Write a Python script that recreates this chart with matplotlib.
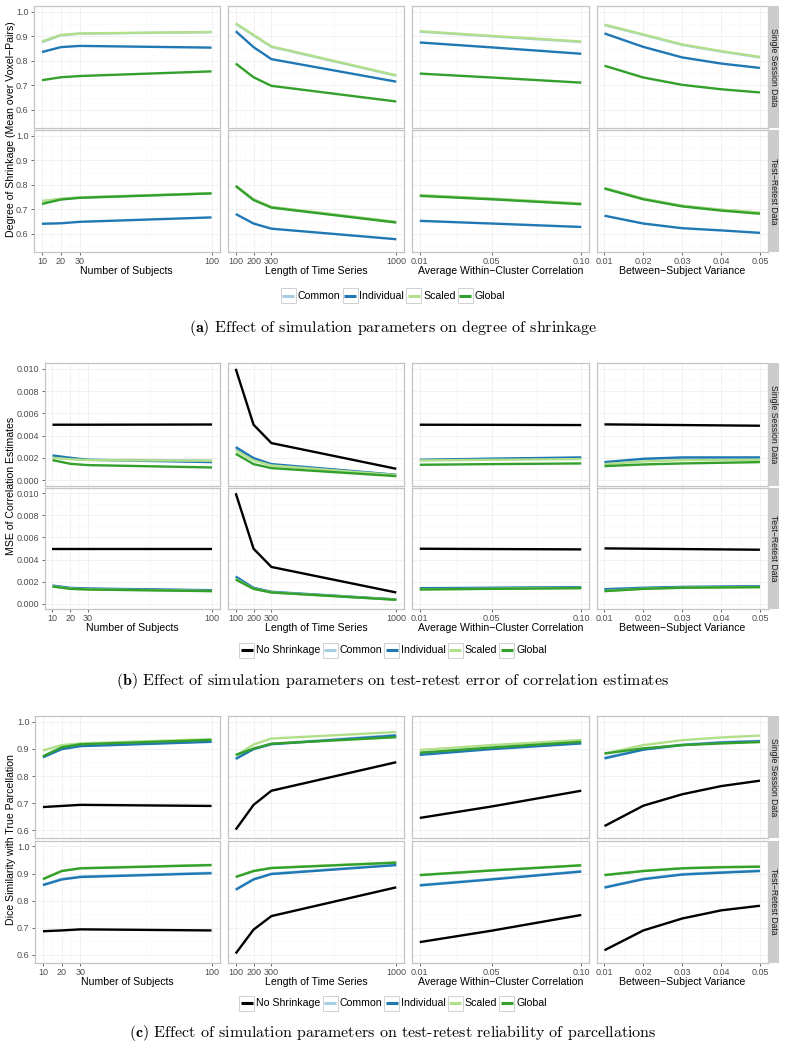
import matplotlib
matplotlib.use("Agg")
import matplotlib.pyplot as plt
from matplotlib.patches import Rectangle
from matplotlib.lines import Line2D

plt.rcParams['font.family'] = ['Liberation Sans', 'DejaVu Sans']
plt.rcParams['mathtext.fontset'] = 'cm'

# ---------------- data ----------------
n_subjects = [10, 20, 30, 100]
ts_length = [100, 200, 300, 1000]
within_corr = [0.01, 0.05, 0.10]
between_var = [0.01, 0.02, 0.03, 0.04, 0.05]

n_subjects_labels = ['10', '20', '30', '100']
ts_length_labels = ['100', '200', '300', '1000']
within_corr_labels = ['0.01', '0.05', '0.10']
between_var_labels = ['0.01', '0.02', '0.03', '0.04', '0.05']

param_titles = ['Number of Subjects', 'Length of Time Series',
                'Average Within\u2212Cluster Correlation', 'Between\u2212Subject Variance']
row_titles = ['Single Session Data', 'Test\u2212Retest Data']

method_names = ['No Shrinkage', 'Common', 'Individual', 'Scaled', 'Global']

# (a) degree of shrinkage
a_ss_common = [[0.876, 0.904, 0.911, 0.917], [0.951, 0.904, 0.857, 0.739], [0.919, 0.900, 0.877], [0.946, 0.906, 0.865, 0.838, 0.814]]
a_ss_indiv = [[0.836, 0.856, 0.861, 0.854], [0.921, 0.856, 0.807, 0.715], [0.875, 0.855, 0.829], [0.912, 0.857, 0.814, 0.789, 0.771]]
a_ss_scaled = [[0.879, 0.906, 0.912, 0.918], [0.953, 0.906, 0.859, 0.741], [0.921, 0.902, 0.879], [0.948, 0.908, 0.867, 0.840, 0.816]]
a_ss_global = [[0.721, 0.733, 0.738, 0.757], [0.789, 0.733, 0.698, 0.634], [0.748, 0.732, 0.711], [0.780, 0.732, 0.702, 0.684, 0.671]]

a_tr_common = [[0.733, 0.742, 0.748, 0.765], [0.796, 0.740, 0.709, 0.648], [0.757, 0.743, 0.723], [0.786, 0.743, 0.714, 0.698, 0.686]]
a_tr_indiv = [[0.641, 0.643, 0.649, 0.667], [0.681, 0.642, 0.621, 0.578], [0.653, 0.642, 0.628], [0.674, 0.642, 0.623, 0.614, 0.604]]
a_tr_scaled = [[0.734, 0.743, 0.749, 0.766], [0.797, 0.741, 0.710, 0.649], [0.758, 0.744, 0.724], [0.787, 0.744, 0.715, 0.699, 0.687]]
a_tr_global = [[0.722, 0.740, 0.747, 0.765], [0.795, 0.738, 0.707, 0.646], [0.755, 0.741, 0.721], [0.785, 0.741, 0.712, 0.695, 0.682]]

# (b) MSE of correlation estimates
b_ss_none = [[0.00498, 0.00498, 0.00498, 0.00500], [0.0100, 0.00498, 0.00333, 0.00102], [0.00498, 0.00497, 0.00495], [0.00501, 0.00498, 0.00495, 0.00492, 0.00489]]
b_ss_common = [[0.00207, 0.00192, 0.00183, 0.00177], [0.00282, 0.00190, 0.00140, 0.00047], [0.00180, 0.00190, 0.00200], [0.00150, 0.00188, 0.00200, 0.00201, 0.00202]]
b_ss_indiv = [[0.00222, 0.00201, 0.00183, 0.00162], [0.00297, 0.00198, 0.00144, 0.00048], [0.00183, 0.00193, 0.00204], [0.00162, 0.00192, 0.00204, 0.00204, 0.00204]]
b_ss_scaled = [[0.00201, 0.00188, 0.00180, 0.00174], [0.00267, 0.00177, 0.00132, 0.00045], [0.00177, 0.00183, 0.00189], [0.00144, 0.00168, 0.00180, 0.00181, 0.00183]]
b_ss_global = [[0.00180, 0.00147, 0.00135, 0.00114], [0.00237, 0.00144, 0.00108, 0.00036], [0.00138, 0.00144, 0.00150], [0.00126, 0.00141, 0.00150, 0.00156, 0.00162]]

b_tr_none = [[0.00498, 0.00498, 0.00498, 0.00498], [0.0100, 0.00498, 0.00333, 0.00102], [0.00498, 0.00495, 0.00492], [0.00501, 0.00498, 0.00495, 0.00492, 0.00489]]
b_tr_common = [[0.00162, 0.00141, 0.00135, 0.00120], [0.00237, 0.00141, 0.00105, 0.00038], [0.00138, 0.00142, 0.00147], [0.00125, 0.00140, 0.00148, 0.00152, 0.00155]]
b_tr_indiv = [[0.00165, 0.00144, 0.00138, 0.00123], [0.00246, 0.00144, 0.00108, 0.00039], [0.00141, 0.00145, 0.00150], [0.00132, 0.00145, 0.00153, 0.00156, 0.00159]]
b_tr_scaled = [[0.00158, 0.00137, 0.00131, 0.00116], [0.00225, 0.00136, 0.00103, 0.00037], [0.00131, 0.00136, 0.00143], [0.00116, 0.00136, 0.00146, 0.00149, 0.00152]]
b_tr_global = [[0.00156, 0.00135, 0.00129, 0.00114], [0.00219, 0.00135, 0.00102, 0.00036], [0.00129, 0.00135, 0.00141], [0.00114, 0.00135, 0.00145, 0.00148, 0.00150]]

# (c) Dice similarity with true parcellation
c_ss_none = [[0.686, 0.690, 0.694, 0.690], [0.603, 0.694, 0.746, 0.851], [0.646, 0.688, 0.746], [0.616, 0.691, 0.733, 0.763, 0.783]]
c_ss_common = [[0.871, 0.901, 0.912, 0.928], [0.866, 0.901, 0.919, 0.951], [0.880, 0.902, 0.922], [0.868, 0.899, 0.916, 0.925, 0.930]]
c_ss_indiv = [[0.869, 0.899, 0.910, 0.926], [0.863, 0.899, 0.917, 0.949], [0.878, 0.899, 0.920], [0.865, 0.897, 0.914, 0.923, 0.928]]
c_ss_scaled = [[0.894, 0.914, 0.920, 0.936], [0.875, 0.916, 0.938, 0.962], [0.896, 0.914, 0.933], [0.883, 0.914, 0.932, 0.942, 0.949]]
c_ss_global = [[0.873, 0.906, 0.917, 0.933], [0.878, 0.901, 0.919, 0.943], [0.886, 0.905, 0.926], [0.883, 0.902, 0.914, 0.920, 0.925]]

c_tr_none = [[0.687, 0.690, 0.694, 0.690], [0.605, 0.693, 0.743, 0.849], [0.647, 0.689, 0.747], [0.617, 0.690, 0.734, 0.764, 0.781]]
c_tr_common = [[0.859, 0.880, 0.889, 0.903], [0.842, 0.880, 0.900, 0.933], [0.858, 0.880, 0.909], [0.850, 0.881, 0.898, 0.905, 0.911]]
c_tr_indiv = [[0.857, 0.878, 0.887, 0.901], [0.840, 0.878, 0.898, 0.931], [0.856, 0.878, 0.907], [0.848, 0.879, 0.896, 0.903, 0.909]]
c_tr_scaled = [[0.880, 0.910, 0.920, 0.932], [0.888, 0.910, 0.921, 0.941], [0.895, 0.912, 0.931], [0.895, 0.910, 0.920, 0.924, 0.926]]
c_tr_global = [[0.879, 0.909, 0.919, 0.931], [0.887, 0.909, 0.920, 0.940], [0.894, 0.911, 0.930], [0.894, 0.909, 0.919, 0.923, 0.925]]

# ---------------- styling ----------------
W, H = 788, 1049
fig = plt.figure(figsize=(W / 100, H / 100), dpi=100)
fig.patch.set_facecolor('white')

colors = {'No Shrinkage': '#000000', 'Common': '#a6cee3', 'Individual': '#1f78b4',
          'Scaled': '#b2df8a', 'Global': '#33a02c'}

x_values = [n_subjects, ts_length, within_corr, between_var]
x_labels = [n_subjects_labels, ts_length_labels, within_corr_labels, between_var_labels]
x_limits = [(5.5, 104.5), (55, 1045), (0.0055, 0.1045), (0.008, 0.052)]
x_minor = [[15, 25, 65], [150, 250, 650], [0.03, 0.075], [0.015, 0.025, 0.035, 0.045]]
col_x = [(None, 220.0), (227.7, 404.3), (411.7, 589.3), (596.7, 767.7)]
strip_x = (767.7, 779.0)

TICK_FS = 6.5
TITLE_FS = 7.6


def px_axes(x0, y0, x1, y1):
    return fig.add_axes([x0 / W, 1 - y1 / H, (x1 - x0) / W, (y1 - y0) / H])


def fig_xy(x, y):
    return x / W, 1 - y / H


figures = [
    dict(left=33.5, rows=[(6.0, 127.7), (130.0, 251.7)], ylim=(0.527, 1.024),
         yticks=[0.6, 0.7, 0.8, 0.9, 1.0], ylabels=['0.6', '0.7', '0.8', '0.9', '1.0'],
         yminor=[0.55, 0.65, 0.75, 0.85, 0.95],
         ylabel='Degree of Shrinkage (Mean over Voxel\u2212Pairs)',
         methods=['Common', 'Individual', 'Scaled', 'Global'],
         series=[[a_ss_common, a_ss_indiv, a_ss_scaled, a_ss_global],
                 [a_tr_common, a_tr_indiv, a_tr_scaled, a_tr_global]],
         legend_y=295.7, caption_y=328.0,
         caption=r'$\mathbf{(a)}$ Effect of simulation parameters on degree of shrinkage'),
    dict(left=44.5, rows=[(363.3, 485.7), (487.7, 609.3)], ylim=(-0.0005, 0.0105),
         yticks=[0.0, 0.002, 0.004, 0.006, 0.008, 0.010],
         ylabels=['0.000', '0.002', '0.004', '0.006', '0.008', '0.010'],
         yminor=[0.001, 0.003, 0.005, 0.007, 0.009],
         ylabel='MSE of Correlation Estimates',
         methods=method_names,
         series=[[b_ss_none, b_ss_common, b_ss_indiv, b_ss_scaled, b_ss_global],
                 [b_tr_none, b_tr_common, b_tr_indiv, b_tr_scaled, b_tr_global]],
         legend_y=650.3, caption_y=681.0,
         caption=r'$\mathbf{(b)}$ Effect of simulation parameters on test-retest error of correlation estimates'),
    dict(left=34.5, rows=[(716.0, 838.3), (840.7, 962.7)], ylim=(0.571, 1.021),
         yticks=[0.6, 0.7, 0.8, 0.9, 1.0], ylabels=['0.6', '0.7', '0.8', '0.9', '1.0'],
         yminor=[0.65, 0.75, 0.85, 0.95],
         ylabel='Dice Similarity with True Parcellation',
         methods=method_names,
         series=[[c_ss_none, c_ss_common, c_ss_indiv, c_ss_scaled, c_ss_global],
                 [c_tr_none, c_tr_common, c_tr_indiv, c_tr_scaled, c_tr_global]],
         legend_y=1003.0, caption_y=1033.3,
         caption=r'$\mathbf{(c)}$ Effect of simulation parameters on test-retest reliability of parcellations'),
]

for spec in figures:
    for r, (y0, y1) in enumerate(spec['rows']):
        for c in range(4):
            x0, x1 = col_x[c]
            if x0 is None:
                x0 = spec['left']
            ax = px_axes(x0, y0, x1, y1)
            ax.set_facecolor('white')
            for m, data in zip(spec['methods'], spec['series'][r]):
                ax.plot(x_values[c], data[c], color=colors[m], lw=1.7,
                        solid_capstyle='butt', solid_joinstyle='round', zorder=3)
            ax.set_xlim(*x_limits[c])
            ax.set_ylim(*spec['ylim'])
            ax.set_xticks(x_values[c])
            ax.set_xticks(x_minor[c], minor=True)
            ax.set_yticks(spec['yticks'])
            ax.set_yticks(spec['yminor'], minor=True)
            ax.grid(True, which='major', color='#efefef', lw=0.6, zorder=0)
            ax.grid(True, which='minor', color='#f8f8f8', lw=0.5, zorder=0)
            ax.set_axisbelow(True)
            for sp in ax.spines.values():
                sp.set_color('#c4c4c4')
                sp.set_linewidth(0.9)
            ax.tick_params(which='minor', length=0)
            ax.tick_params(which='major', length=2.5, width=0.6, color='#4d4d4d',
                           labelsize=TICK_FS, labelcolor='#4d4d4d', pad=1.2)
            if c == 0:
                ax.set_yticklabels(spec['ylabels'])
            else:
                ax.tick_params(axis='y', which='major', length=0, labelleft=False)
            if r == 1:
                ax.set_xticklabels(x_labels[c])
                ax.set_xlabel(param_titles[c], fontsize=TITLE_FS, labelpad=0.0)
            else:
                ax.tick_params(axis='x', which='major', length=0, labelbottom=False)
        # strip
        sx0, sy0 = fig_xy(strip_x[0], y1)
        sw = (strip_x[1] - strip_x[0]) / W
        sh = (y1 - y0) / H
        fig.add_artist(Rectangle((sx0, sy0), sw, sh, transform=fig.transFigure,
                                 facecolor='#cccccc', edgecolor='none'))
        tx, ty = fig_xy((strip_x[0] + strip_x[1]) / 2, (y0 + y1) / 2)
        fig.text(tx, ty, row_titles[r], rotation=-90, ha='center', va='center',
                 fontsize=6.2, color='#1a1a1a')
    # y label
    ymid = (spec['rows'][0][0] + spec['rows'][1][1]) / 2
    lx, ly = fig_xy(11.5, ymid)
    fig.text(lx, ly, spec['ylabel'], rotation=90, ha='center', va='center',
             fontsize=TITLE_FS, color='black')

    # caption
    cx, cy = fig_xy(393, spec['caption_y'])
    fig.text(cx, cy, spec['caption'], ha='center', va='center', fontsize=11.5,
             family='cmr10')

# legends (drawn after measuring text)
renderer = fig.canvas.get_renderer()
for spec in figures:
    items = spec['methods']
    box = 15.0
    gap_text = 2.0
    gap_item = 2.0
    texts = []
    widths = []
    for m in items:
        t = fig.text(0, 0, m, fontsize=TITLE_FS, ha='left', va='center', color='black')
        widths.append(t.get_window_extent(renderer).width)
        texts.append(t)
    total = sum(box + gap_text + w for w in widths) + gap_item * (len(items) - 1)
    x = 393 - total / 2
    yc = spec['legend_y']
    for m, t, w in zip(items, texts, widths):
        bx, by = fig_xy(x, yc + box / 2)
        fig.add_artist(Rectangle((bx, by), box / W, box / H, transform=fig.transFigure,
                                 facecolor='white', edgecolor='#d0d0d0', lw=0.7))
        lx0, ly0 = fig_xy(x + 1.5, yc)
        lx1, _ = fig_xy(x + box - 1.5, yc)
        fig.add_artist(Line2D([lx0, lx1], [ly0, ly0], transform=fig.transFigure,
                              color=colors[m], lw=2.2, solid_capstyle='butt'))
        tx, ty = fig_xy(x + box + gap_text, yc)
        t.set_position((tx, ty))
        x += box + gap_text + w + gap_item

fig.savefig('out.png', dpi=100, facecolor='white')
